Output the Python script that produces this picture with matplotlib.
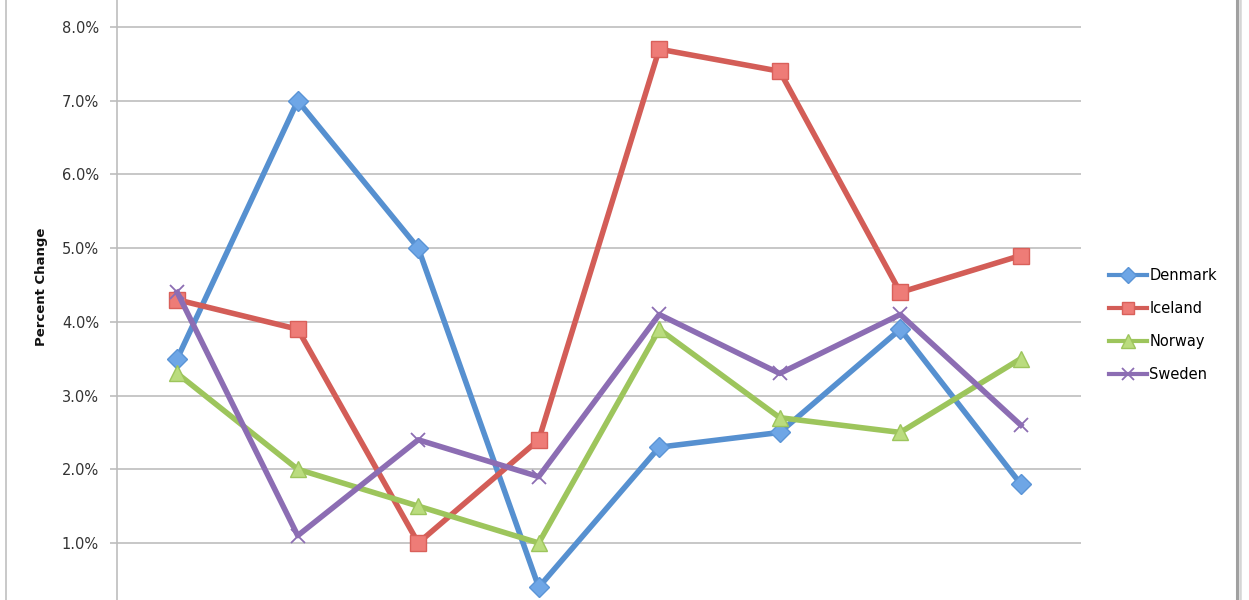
import matplotlib.pyplot as plt
from matplotlib.lines import Line2D
from matplotlib.ticker import FuncFormatter

# values, percent change
years = ['2001', '2002', '2003', '2004', '2005', '2006', '2007', '2008']
denmark = [3.5, 7.0, 5.0, 0.4, 2.3, 2.5, 3.9, 1.8]
iceland = [4.3, 3.9, 1.0, 2.4, 7.7, 7.4, 4.4, 4.9]
norway = [3.3, 2.0, 1.5, 1.0, 3.9, 2.7, 2.5, 3.5]
sweden = [4.4, 1.1, 2.4, 1.9, 4.1, 3.3, 4.1, 2.6]

W, H = 1249, 600
fig = plt.figure(figsize=(W / 100, H / 100), dpi=100)
ax = fig.add_axes([117 / W, 0, 964 / W, 1])

x = range(len(years))
series = [
    ('Denmark', denmark, '#5690D0', '#6EA6E6', '#5A94D6', 'D', 10),
    ('Iceland', iceland, '#D35D57', '#EE7C77', '#D9605A', 's', 11),
    ('Norway', norway, '#9DC55C', '#BADC7E', '#9DC55C', '^', 12),
    ('Sweden', sweden, '#8C6DB3', '#8C6DB3', '#8C6DB3', 'x', 10),
]
for name, vals, col, face, edge, mk, ms in series:
    ax.plot(x, vals, color=col, lw=4, marker=mk, ms=ms,
            markerfacecolor=face, markeredgecolor=edge,
            markeredgewidth=1.0 if mk != 'x' else 1.3, label=name, zorder=3)

# visible window of the original chart (bottom cut off)
ax.set_ylim(16.7 / 73.71, 616.7 / 73.71)
ax.set_xlim(-0.5, len(years) - 0.5)
ax.set_yticks([1, 2, 3, 4, 5, 6, 7, 8])
ax.yaxis.set_major_formatter(FuncFormatter(lambda v, p: '%.1f%%' % v))
ax.set_xticks([])
ax.grid(axis='y', color='#BDBDBD', lw=1.2)
ax.set_axisbelow(True)
for s in ['top', 'right', 'bottom']:
    ax.spines[s].set_visible(False)
ax.spines['left'].set_color('#BDBDBD')
ax.spines['left'].set_linewidth(1.2)
ax.tick_params(axis='y', length=5, width=1.2, color='#BDBDBD', pad=8,
               labelsize=10.5, labelcolor='#333333')

fig.text(42 / W, 1 - 287 / H, 'Percent Change', rotation=90, ha='center',
         va='center', fontsize=9.5, fontweight='bold', color='#111111')

leg = ax.legend(loc='center left', bbox_to_anchor=(1102 / W, 1 - 325 / H),
                bbox_transform=fig.transFigure, frameon=False, fontsize=10.5,
                handlelength=2.6, handletextpad=0.15, labelspacing=1.22,
                borderpad=0, markerscale=0.8)
for h in leg.legend_handles:
    h.set_linewidth(3)

# chart area border pieces
fig.add_artist(Line2D([5.5 / W, 5.5 / W], [0, 1], color='#C0C0C0', lw=1.2))
fig.add_artist(Line2D([1237 / W, 1237 / W], [0, 1], color='#A0A0A0', lw=2.2))
fig.add_artist(Line2D([1240 / W, 1240 / W], [0, 1], color='#D5D5D5', lw=1.8))

fig.savefig('out.png', dpi=100)
